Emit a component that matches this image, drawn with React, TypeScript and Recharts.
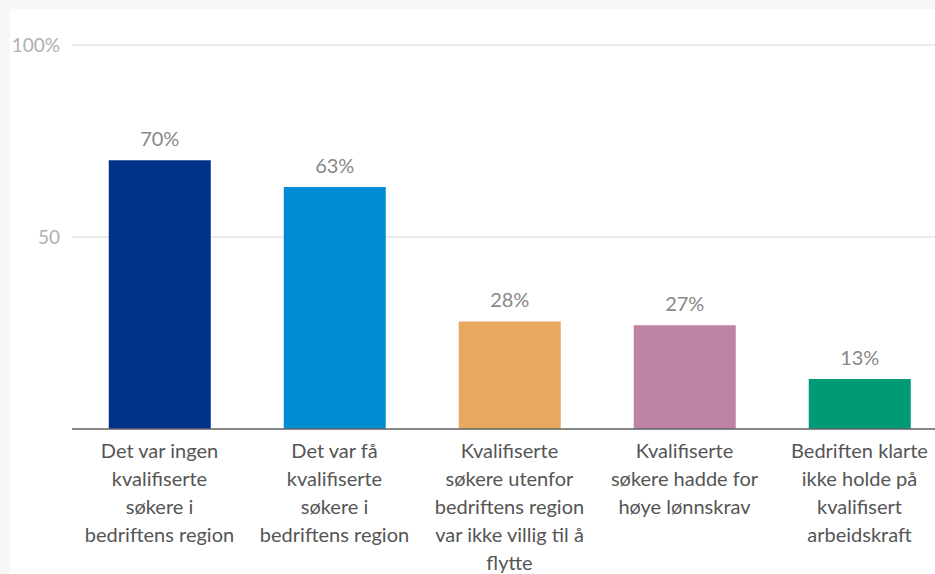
import { BarChart, Bar, XAxis, YAxis, CartesianGrid, Cell, LabelList } from 'recharts';

const categories = [
  'Det var ingen kvalifiserte søkere i bedriftens region',
  'Det var få kvalifiserte søkere i bedriftens region',
  'Kvalifiserte søkere utenfor bedriftens region var ikke villig til å flytte',
  'Kvalifiserte søkere hadde for høye lønnskrav',
  'Bedriften klarte ikke holde på kvalifisert arbeidskraft',
];
const labelLines = [
  ['Det var ingen', 'kvalifiserte', 'søkere i', 'bedriftens region'],
  ['Det var få', 'kvalifiserte', 'søkere i', 'bedriftens region'],
  ['Kvalifiserte', 'søkere utenfor', 'bedriftens region', 'var ikke villig til å', 'flytte'],
  ['Kvalifiserte', 'søkere hadde for', 'høye lønnskrav'],
  ['Bedriften klarte', 'ikke holde på', 'kvalifisert', 'arbeidskraft'],
];
const values = [70, 63, 28, 27, 13];
const colors = ['#00328a', '#008cd2', '#e7a85f', '#be82a4', '#009a76'];
const yTicks = [0, 50, 100];
const yTickLabels: Record<number, string> = { 0: '', 50: '50', 100: '100%' };

const data = categories.map((name, i) => ({ name, idx: i, value: values[i] }));

const FONT = 'Lato, "Open Sans", sans-serif';

function CatTick({ x, y, payload }: { x?: number; y?: number; payload?: { index: number } }) {
  const lines = labelLines[payload?.index ?? 0];
  return (
    <text x={x} y={(y ?? 0) + 21} textAnchor="middle" fill="#555" fontSize={20} fontFamily={FONT}>
      {lines.map((l, i) => (
        <tspan key={i} x={x} dy={i === 0 ? 0 : 28}>{l}</tspan>
      ))}
    </text>
  );
}

export default function App() {
  return (
    <div style={{ position: 'absolute', left: 0, top: 0, width: 935, height: 574, background: '#f7f7f7', overflow: 'hidden' }}>
      <div style={{ position: 'absolute', left: 10, top: 9, right: 0, bottom: 0, background: '#fff' }} />
      <div style={{ position: 'absolute', left: 0, top: 0 }}>
        <BarChart width={950} height={574} data={data} margin={{ top: 45, right: 3, bottom: 0, left: 0 }} barCategoryGap="21%">
          <CartesianGrid vertical={false} stroke="#e6e6e6" strokeWidth={1.5} />
          <XAxis dataKey="name" height={145} interval={0} tickLine={false} axisLine={{ stroke: '#666', strokeWidth: 1.5 }} tick={<CatTick />} />
          <YAxis width={72} domain={[0, 100]} ticks={yTicks} tickLine={false} axisLine={false} tickSize={0} tickMargin={12}
            tickFormatter={(v: number) => yTickLabels[v] ?? ''}
            tick={{ fontSize: 19, fill: '#b0b0b0', fontFamily: FONT }} />
          <Bar dataKey="value" isAnimationActive={false}>
            {data.map((d) => <Cell key={d.idx} fill={colors[d.idx]} />)}
            <LabelList dataKey="value" position="top" offset={14} formatter={(v: number) => `${v}%`}
              style={{ fontSize: 20, fill: '#888', fontFamily: FONT }} />
          </Bar>
        </BarChart>
      </div>
    </div>
  );
}
